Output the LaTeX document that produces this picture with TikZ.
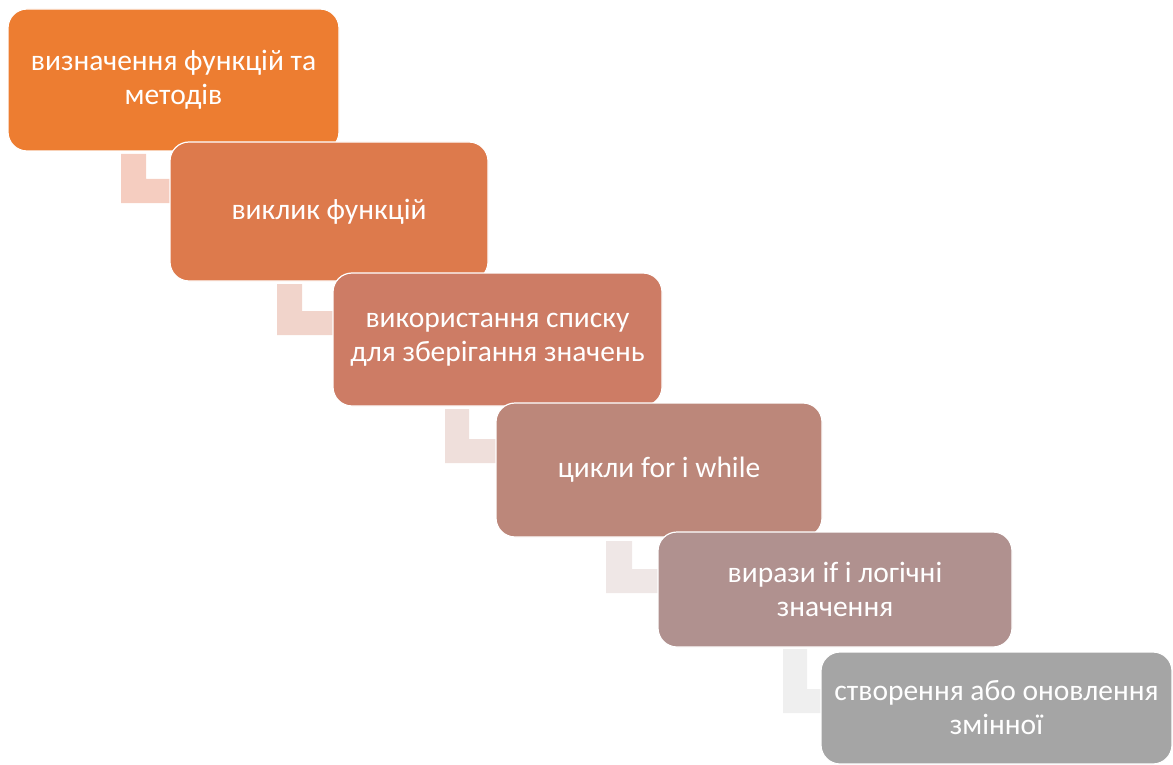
\documentclass[tikz,border=0pt]{standalone}
\usepackage{fontspec}
\setmainfont{Carlito}
\begin{document}
\begin{tikzpicture}[x=1pt,y=-1pt,
  stepbox/.style={draw=white,line width=1.2pt,rounded corners=19pt,text=white,align=center,
    font=\fontsize{29.5}{34}\selectfont,inner sep=0pt,outer sep=0pt,rectangle}]
\useasboundingbox (0,0) rectangle (1173,765);
\definecolor{cA}{HTML}{ED7D31}
\definecolor{cB}{HTML}{DD7A4C}
\definecolor{cC}{HTML}{CD7C65}
\definecolor{cD}{HTML}{BC877A}
\definecolor{cE}{HTML}{B0918F}
\definecolor{cF}{HTML}{A5A5A5}
\definecolor{lA}{HTML}{F5CDC0}
\definecolor{lB}{HTML}{F1D4CB}
\definecolor{lC}{HTML}{EFDFDB}
\definecolor{lD}{HTML}{EFE7E6}
\definecolor{lE}{HTML}{EFEFEF}
% bending connectors
\fill[lA] (121,154) -- (146,154) -- (146,179) -- (171,179) -- (171,203) -- (121,203) -- cycle;
\fill[lB] (277,284) -- (302,284) -- (302,311) -- (334,311) -- (334,335) -- (277,335) -- cycle;
\fill[lC] (445,409) -- (469,409) -- (469,439) -- (497,439) -- (497,463) -- (445,463) -- cycle;
\fill[lD] (606,541) -- (632,541) -- (632,569) -- (659,569) -- (659,593) -- (606,593) -- cycle;
\fill[lE] (783,649) -- (807,649) -- (807,689) -- (822,689) -- (822,713) -- (783,713) -- cycle;
% boxes
\node (b1) at (173.5,80) [stepbox,fill=cA,minimum width=331pt,minimum height=142pt] {визначення функцій та\\методів};
\node (b2) at (329,211.5) [stepbox,fill=cB,minimum width=318pt,minimum height=139pt] {виклик функцій};
\node (b3) at (497.5,339.5) [stepbox,fill=cC,minimum width=329pt,minimum height=133pt] {використання списку\\для зберігання значень};
\node (b4) at (659,470) [stepbox,fill=cD,minimum width=326pt,minimum height=134pt] {цикли for i while};
\node (b5) at (835,589.5) [stepbox,fill=cE,minimum width=354pt,minimum height=115pt] {вирази if і логічні\\значення};
\node (b6) at (996.5,708) [stepbox,fill=cF,minimum width=351pt,minimum height=112pt] {створення або оновлення\\змінної};
\end{tikzpicture}
\end{document}
